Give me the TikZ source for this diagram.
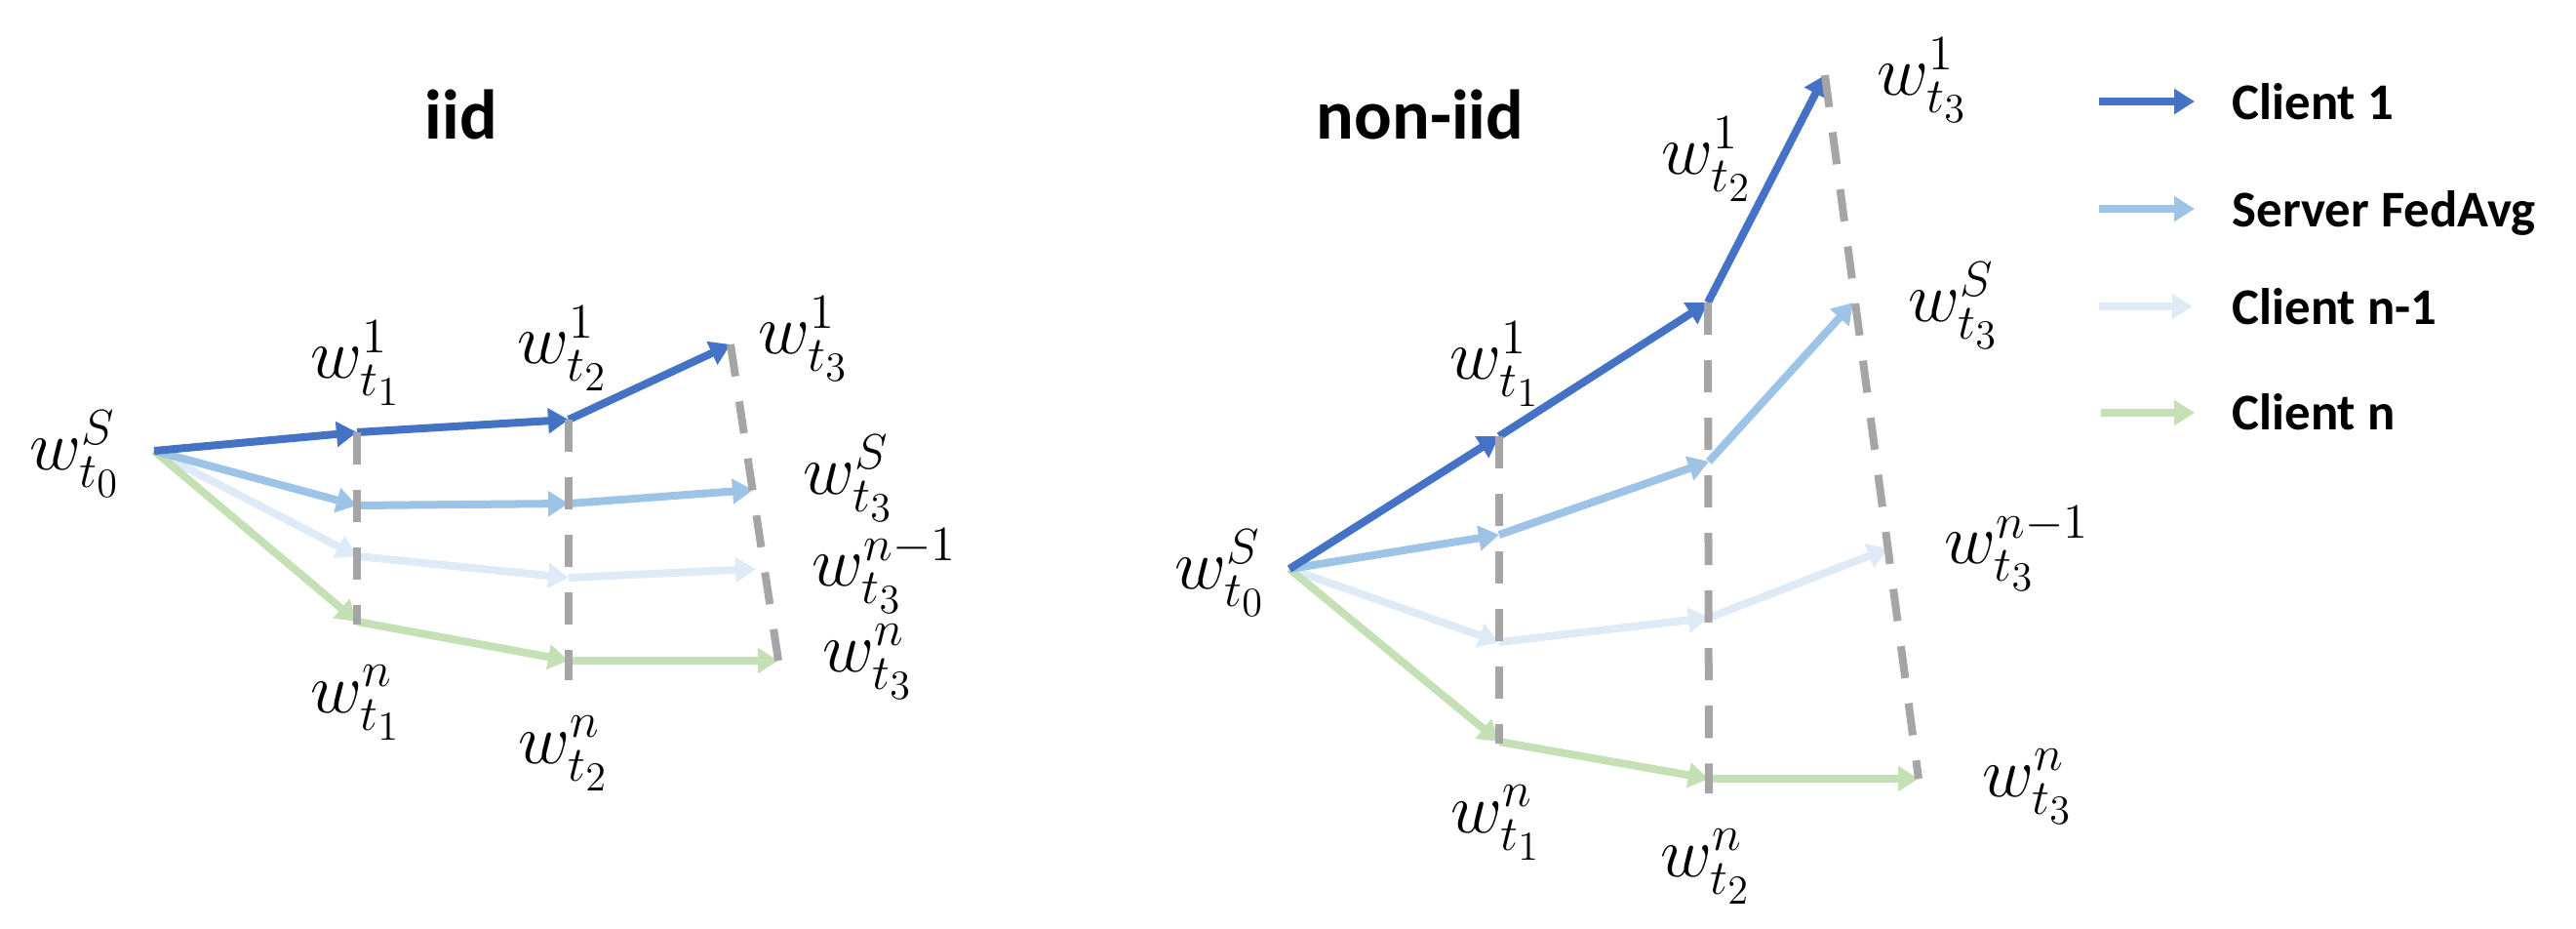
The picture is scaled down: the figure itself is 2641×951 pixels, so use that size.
\documentclass[tikz,border=0pt]{standalone}
\usepackage{fontspec}
\newfontfamily\carlito{Carlito}
\usetikzlibrary{arrows.meta}
\definecolor{cone}{HTML}{4472C4}
\definecolor{csrv}{HTML}{9DC3E6}
\definecolor{cnm}{HTML}{DEEBF7}
\definecolor{cn}{HTML}{C5E0B4}
\definecolor{dgray}{HTML}{A5A5A5}
\tikzset{
  arr/.style={line width=0.08cm, -{Triangle[length=0.21cm,width=0.25cm]}},
  guide/.style={dgray, line width=0.08cm, dash pattern=on 0.33cm off 0.26cm},
  lab/.style={inner sep=0pt, font=\fontsize{20.74}{24}\selectfont},
  title/.style={inner sep=0pt, anchor=base, font=\carlito\bfseries\fontsize{20.5}{24}\selectfont},
  legtext/.style={inner sep=0pt, anchor=base west, font=\carlito\bfseries\fontsize{15}{18}\selectfont}
}
\begin{document}
\begin{tikzpicture}[x=0.01cm,y=-0.01cm]
\useasboundingbox (0,0) rectangle (2641,951);
% ---------------- iid ----------------
\coordinate (LO) at (158,462);
\coordinate (LA1) at (366,443); \coordinate (LA2) at (583,430); \coordinate (LA3) at (749,353);
\coordinate (LB1) at (366,518); \coordinate (LB2) at (583,516); \coordinate (LB3) at (772,502);
\coordinate (LC1) at (366,570); \coordinate (LC2) at (583,592); \coordinate (LC3) at (775,583);
\coordinate (LD1) at (366,637); \coordinate (LD2) at (583,677); \coordinate (LD3) at (798,677);
\coordinate (LG1a) at (366,640); \coordinate (LG2a) at (583,697);

\draw[arr,cnm] (LO) -- (LC1); \draw[arr,cnm] (LC1) -- (LC2); \draw[arr,cnm] (LC2) -- (LC3);
\draw[arr,cn] (LO) -- (LD1); \draw[arr,cn] (LD1) -- (LD2); \draw[arr,cn] (LD2) -- (LD3);
\draw[arr,csrv] (LO) -- (LB1); \draw[arr,csrv] (LB1) -- (LB2); \draw[arr,csrv] (LB2) -- (LB3);
\draw[arr,cone] (LO) -- (LA1); \draw[arr,cone] (LA1) -- (LA2); \draw[arr,cone] (LA2) -- (LA3);

\draw[guide] (LA1) -- (LG1a);
\draw[guide] (LA2) -- (LG2a);
\draw[guide] (LA3) -- (LD3);

\node[title] (tiid) at (473,142) {iid};
\node[lab] (l0) at (77,465) {$w_{t_0}^{S}$};
\node[lab] (la1) at (365,372) {$w_{t_1}^{1}$};
\node[lab] (la2) at (577,357) {$w_{t_2}^{1}$};
\node[lab] (la3) at (824,347) {$w_{t_3}^{1}$};
\node[lab] (lb3) at (870,490) {$w_{t_3}^{S}$};
\node[lab] (lc3) at (907,585) {$w_{t_3}^{n-1}$};
\node[lab] (ld3) at (890,678) {$w_{t_3}^{n}$};
\node[lab] (ld1) at (365,720) {$w_{t_1}^{n}$};
\node[lab] (ld2) at (578,772) {$w_{t_2}^{n}$};

% ---------------- non-iid ----------------
\coordinate (RO) at (1322,583);
\coordinate (RA1) at (1537,447); \coordinate (RA2) at (1751,310); \coordinate (RA3) at (1871,77);
\coordinate (RB1) at (1537,548); \coordinate (RB2) at (1752,473); \coordinate (RB3) at (1900,310);
\coordinate (RC1) at (1537,658); \coordinate (RC2) at (1752,633); \coordinate (RC3) at (1936,562);
\coordinate (RD1) at (1537,760); \coordinate (RD2) at (1752,798); \coordinate (RD3) at (1967,798);
\coordinate (RG1a) at (1537,762); \coordinate (RG2a) at (1752,813);

\draw[arr,cnm] (RO) -- (RC1); \draw[arr,cnm] (RC1) -- (RC2); \draw[arr,cnm] (RC2) -- (RC3);
\draw[arr,cn] (RO) -- (RD1); \draw[arr,cn] (RD1) -- (RD2); \draw[arr,cn] (RD2) -- (RD3);
\draw[arr,csrv] (RO) -- (RB1); \draw[arr,csrv] (RB1) -- (RB2); \draw[arr,csrv] (RB2) -- (RB3);
\draw[arr,cone] (RO) -- (RA1); \draw[arr,cone] (RA1) -- (RA2); \draw[arr,cone] (RA2) -- (RA3);

\draw[guide] (RA1) -- (RG1a);
\draw[guide] (RA2) -- (RG2a);
\draw[guide] (RA3) -- (RD3);

\node[title] (tnon) at (1456,142) {non-iid};
\node[lab] (r0) at (1251,587) {$w_{t_0}^{S}$};
\node[lab] (ra1) at (1533,373) {$w_{t_1}^{1}$};
\node[lab] (ra2) at (1750,163) {$w_{t_2}^{1}$};
\node[lab] (ra3) at (1971,82) {$w_{t_3}^{1}$};
\node[lab] (rb3) at (2003,313) {$w_{t_3}^{S}$};
\node[lab] (rc3) at (2068,562) {$w_{t_3}^{n-1}$};
\node[lab] (rd3) at (2079,806) {$w_{t_3}^{n}$};
\node[lab] (rd1) at (1534,843) {$w_{t_1}^{n}$};
\node[lab] (rd2) at (1749,888) {$w_{t_2}^{n}$};

% ---------------- legend ----------------
\coordinate (g1s) at (2152,104); \coordinate (g1e) at (2250,104);
\coordinate (g2s) at (2152,214); \coordinate (g2e) at (2250,214);
\coordinate (g3s) at (2152,314); \coordinate (g3e) at (2248,314);
\coordinate (g4s) at (2154,423); \coordinate (g4e) at (2250,423);
\draw[arr,cone] (g1s) -- (g1e);
\draw[arr,csrv] (g2s) -- (g2e);
\draw[arr,cnm] (g3s) -- (g3e);
\draw[arr,cn] (g4s) -- (g4e);
\node[legtext] (k1) at (2288,122) {Client 1};
\node[legtext] (k2) at (2288,232) {Server FedAvg};
\node[legtext] (k3) at (2288,332) {Client n-1};
\node[legtext] (k4) at (2288,440) {Client n};
\end{tikzpicture}
\end{document}
